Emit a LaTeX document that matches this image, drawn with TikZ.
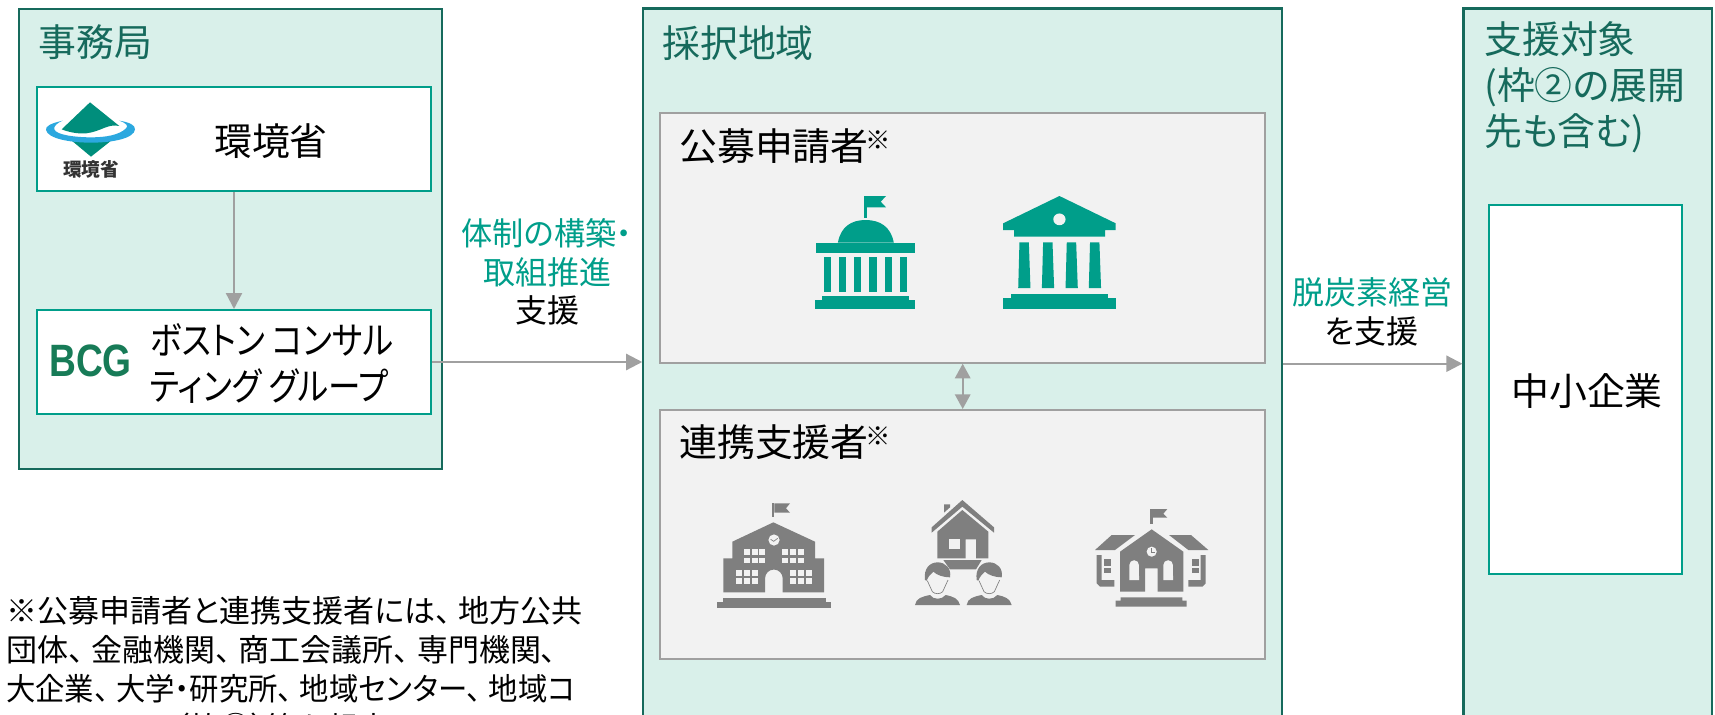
\documentclass[tikz,border=0pt]{standalone}
\usepackage{fontspec}
\setmainfont[RawFeature=+palt]{Noto Sans CJK JP}
\newfontfamily\bcgfont{Liberation Sans}
\usetikzlibrary{arrows.meta}
\definecolor{PanelMint}{RGB}{217,240,234}
\definecolor{PanelEdge}{RGB}{22,106,92}
\definecolor{EnvTeal}{RGB}{0,158,138}
\definecolor{ArrowGray}{RGB}{160,160,160}
\definecolor{BoxGray}{RGB}{242,242,242}
\definecolor{IconGray}{RGB}{127,127,127}
\definecolor{RingBlue}{RGB}{43,168,223}
\definecolor{BcgGreen}{RGB}{23,123,87}
\newcommand{\refmark}{\hspace{-2.5pt}\raisebox{8pt}{\fontsize{19}{19}\selectfont ※}}
\newcommand{\tenmark}{、\hspace{0.25em}}
\tikzset{
    pxsize/.style 2 args={minimum width=#1*0.75pt, minimum height=#2*0.75pt, inner sep=0pt},
    panelbox/.style={draw=PanelEdge, line width=1.6pt, fill=PanelMint},
    whitebox/.style={draw=EnvTeal, line width=1.5pt, fill=white},
    graybox/.style={draw=ArrowGray, line width=1.5pt, fill=BoxGray},
    bigtext/.style={inner sep=0pt, font=\fontsize{28.4}{34.5}\selectfont},
    labeltext/.style={inner sep=0pt, align=center, font=\fontsize{24}{29}\selectfont},
    flowline/.style={draw=ArrowGray, line width=1.7pt, -{Triangle[length=12pt,width=12pt]}},
    bothline/.style={draw=ArrowGray, line width=1.7pt, {Triangle[length=11pt,width=11.5pt]}-{Triangle[length=11pt,width=11.5pt]}}
}
\begin{document}
\begin{tikzpicture}[x=0.75pt, y=-0.75pt]
    \path[use as bounding box, clip] (0,0) rectangle (1715,714);

    % --- PANELS ---
    \node[panelbox, pxsize={423}{460}] (office) at (230.5,239) {};
    \node[panelbox, pxsize={639}{900}] (region) at (962.8,458.5) {};
    \node[panelbox, pxsize={248.5}{900}] (target) at (1587.7,458.5) {};

    \node[whitebox, pxsize={394}{104}] (moe) at (234,139.2) {};
    \node[whitebox, pxsize={394}{104}] (bcg) at (234,362) {};
    \node[graybox, pxsize={605}{250}] (applicant) at (962.7,237.7) {};
    \node[graybox, pxsize={605}{249}] (partner) at (962.7,534.5) {};
    \node[whitebox, pxsize={193.6}{369}] (sme) at (1585.4,389.5) {};

    % --- TEXTS ---
    \node[bigtext, text=PanelEdge, anchor=west] (officetitle) at (38,42) {事務局};
    \node[bigtext, text=PanelEdge, anchor=west] (regiontitle) at (662,43) {採択地域};
    \node[bigtext, text=PanelEdge, anchor=north west, align=left] (targettitle) at (1484,21) {支援対象\\(枠②の展開\\先も含む)};
    \node[bigtext] (moetext) at (271,141) {環境省};
    \node[bigtext, anchor=west, align=left] (bcgtext) at (150,363)
        {\scalebox{0.86}[1]{ボストン コンサル}\\\scalebox{0.86}[1]{ティング グループ}};
    \node[bigtext, anchor=west] (applicanttext) at (679,146) {公募申請者\refmark};
    \node[bigtext, anchor=west] (partnertext) at (679,442) {連携支援者\refmark};
    \node[bigtext] (smetext) at (1587,391) {中小企業};
    \node[labeltext] (supporttext) at (547,272) {\textcolor{EnvTeal}{\scalebox{0.975}[1]{体制の構築・}}\\\textcolor{EnvTeal}{取組推進}\\支援};
    \node[labeltext] (decarbtext) at (1372,312) {\textcolor{EnvTeal}{脱炭素経営}\\を支援};
    \node[inner sep=0pt, anchor=north west, align=left, font=\fontsize{23.25}{29.3}\selectfont] (notetext) at (6,596)
        {※公募申請者と連携支援者には\tenmark 地方公共\\団体\tenmark 金融機関\tenmark 商工会議所\tenmark 専門機関\tenmark\\\scalebox{0.947}[1]{大企業\tenmark 大学・研究所\tenmark 地域センター\tenmark 地域コ}\\ンソーシアム（枠②）等も想定};

    % --- ARROWS ---
    \draw[flowline] (moe.south) -- (bcg.north);
    \draw[flowline] (bcg.east) -- (bcg.east -| region.west);
    \draw[flowline] (applicant.south -| region.east) -- (applicant.south -| target.west);
    \draw[bothline] (applicant.south) -- (partner.north);

    % --- LOGOS ---
    \begin{scope}[shift={(36,90)}, x=0.25pt, y=-0.25pt]
        \fill[EnvTeal!90!black] (162,37) -- (250,108) .. controls (215,100) and (195,125) .. (150,130)
            .. controls (120,132) and (95,125) .. (77,118) -- cycle;
        \fill[EnvTeal!90!black] (105,150) -- (165,200) -- (228,150) -- cycle;
        \fill[RingBlue] (80,92) .. controls (45,100) and (28,108) .. (30,120)
            .. controls (35,145) and (100,158) .. (165,158) .. controls (230,158) and (295,145) .. (297,118)
            .. controls (298,105) and (280,97) .. (250,92) .. controls (272,100) and (278,108) .. (270,115)
            .. controls (250,135) and (210,142) .. (165,142) .. controls (120,142) and (60,135) .. (55,118)
            .. controls (52,108) and (65,98) .. (80,92) -- cycle;
        \node[inner sep=0pt, font=\bfseries\fontsize{14}{14}\selectfont, text=black!80] (moelogo) at (165,237) {環境省};
    \end{scope}
    \node[inner sep=0pt, text=BcgGreen, font=\bcgfont\bfseries\fontsize{34}{34}\selectfont] (bcglogo) at (90.5,360.5) {\scalebox{0.82}[1]{BCG}};

    % --- ICONS: dome and bank ---
    \begin{scope}[shift={(640,100)}, x=0.306pt, y=-0.25pt, EnvTeal]
        \fill (548,288) rectangle (556,355);
        \fill (556,288) -- (603,288) -- (590,305) -- (603,322) -- (556,322) -- cycle;
        \fill (485,428) .. controls (492,380) and (518,360) .. (553,360) .. controls (588,360) and (615,380) .. (622,428) -- cycle;
        \fill (431,428) rectangle (673,458);
        \foreach \colx in {450,487,524,562,600,637} {
            \fill (\colx,471) rectangle ++(18,106);
        }
        \fill (446,587) rectangle (659,600);
        \fill (430,600) rectangle (675,627);
        % bank
        \fill (1028,288) -- (1166,370) -- (1166,390) -- (1140,390) -- (1140,410) -- (917,410) -- (917,390) -- (890,390) -- (890,370) -- cycle;
        \fill[BoxGray] (1028,358) ellipse [x radius=4.6pt, y radius=4.4pt];
        \foreach \colx in {927,985,1043,1100} {
            \fill (\colx+3,427) -- (\colx+26,427) -- (\colx+30,564) -- (\colx,564) -- cycle;
        }
        \fill (910,582) rectangle (1148,595);
        \fill (890,595) rectangle (1166,627);
    \end{scope}

    % --- ICONS: school ---
    \begin{scope}[shift={(700,490)}, x=0.25pt, y=-0.25pt, IconGray]
        \fill (217,40) rectangle (223,80);
        \fill (223,40) -- (270,40) -- (258,55) -- (270,68) -- (223,68) -- cycle;
        \fill (220,97) -- (345,155) -- (345,205) -- (372,205) -- (372,307) -- (248,307) -- (248,265)
            arc[start angle=0, end angle=180, radius=6.6pt] -- (195,307) -- (70,307) -- (70,205) -- (97,205) -- (97,155) -- cycle;
        \fill[BoxGray] (222,150) circle [radius=4.2pt];
        \draw[line width=0.5pt] (212,148) -- (221,154) -- (233,145);
        \foreach \winx in {133,155,178,246,270,293} {
            \foreach \winy in {177,203} { \fill[BoxGray] (\winx,\winy) rectangle ++(18,17); }
        }
        \foreach \winx in {108,132,155,270,295,318} {
            \foreach \winy in {240,265} { \fill[BoxGray] (\winx,\winy) rectangle ++(18,17); }
        }
        \fill (68,325) rectangle (378,335);
        \fill (52,335) rectangle (392,354);
    \end{scope}

    % --- ICONS: house and two people ---
    \begin{scope}[shift={(900,490)}, x=0.25pt, y=-0.25pt, IconGray]
        \fill (132,43) -- (150,43) -- (150,52) -- (132,68) -- cycle;
        \fill (187,30) -- (282,112) -- (282,128) -- (187,50) -- (95,128) -- (95,112) -- cycle;
        \fill (187,60) -- (265,125) -- (265,205) -- (228,205) -- (228,148) -- (197,148) -- (197,205) -- (112,205) -- (112,125) -- cycle;
        \fill[BoxGray] (148,148) rectangle (180,178);
        \fill (130,210) -- (245,210) -- (228,238) -- (150,238) -- cycle;
        \foreach \dx in {0,155} {
            \begin{scope}[shift={(\dx,0)}]
                \fill (75,270) .. controls (70,235) and (90,217) .. (113,217) .. controls (136,217) and (155,235) .. (150,262)
                    .. controls (130,262) and (110,255) .. (100,245) .. controls (92,252) and (84,260) .. (80,272) -- cycle;
                \draw[line width=0.5pt] (82,272) -- (97,305) .. controls (105,313) and (120,313) .. (128,305) -- (144,270);
                \fill (45,345) .. controls (48,325) and (65,320) .. (90,315) .. controls (100,330) and (125,330) .. (137,315)
                    .. controls (160,320) and (175,325) .. (180,345) -- cycle;
            \end{scope}
        }
    \end{scope}

    % --- ICONS: small school ---
    \begin{scope}[shift={(1085,500)}, x=0.25pt, y=-0.25pt, IconGray]
        \fill (196,27) rectangle (203,72);
        \fill (203,27) -- (247,27) -- (235,41) -- (247,53) -- (203,53) -- cycle;
        \fill (200,88) -- (295,155) -- (295,275) -- (218,275) -- (218,205) -- (180,205) -- (180,275) -- (105,275) -- (105,155) -- cycle;
        \fill[BoxGray] (200,155) circle [radius=3.8pt];
        \draw[line width=0.5pt] (200,145) -- (200,157) -- (210,157);
        \foreach \archx in {133,235} {
            \fill[BoxGray] (\archx,240) -- (\archx,195) arc[start angle=180, end angle=0, radius=3.6pt] -- (\archx+29,240) -- cycle;
        }
        \fill (80,105) -- (150,105) -- (90,150) -- (30,150) -- cycle;
        \fill (252,105) -- (318,105) -- (370,150) -- (310,150) -- cycle;
        \fill (35,165) -- (50,165) -- (50,240) -- (88,240) -- (88,260) -- (45,260) -- (35,250) -- cycle;
        \fill (362,165) -- (347,165) -- (347,240) -- (310,240) -- (310,260) -- (352,260) -- (362,250) -- cycle;
        \fill (58,178) rectangle (78,198);
        \fill (58,203) rectangle (78,220);
        \fill (322,178) rectangle (342,198);
        \fill (322,203) rectangle (342,220);
        \fill (107,292) -- (292,292) -- (292,302) -- (305,302) -- (305,320) -- (92,320) -- (92,302) -- (107,302) -- cycle;
    \end{scope}
\end{tikzpicture}
\end{document}
